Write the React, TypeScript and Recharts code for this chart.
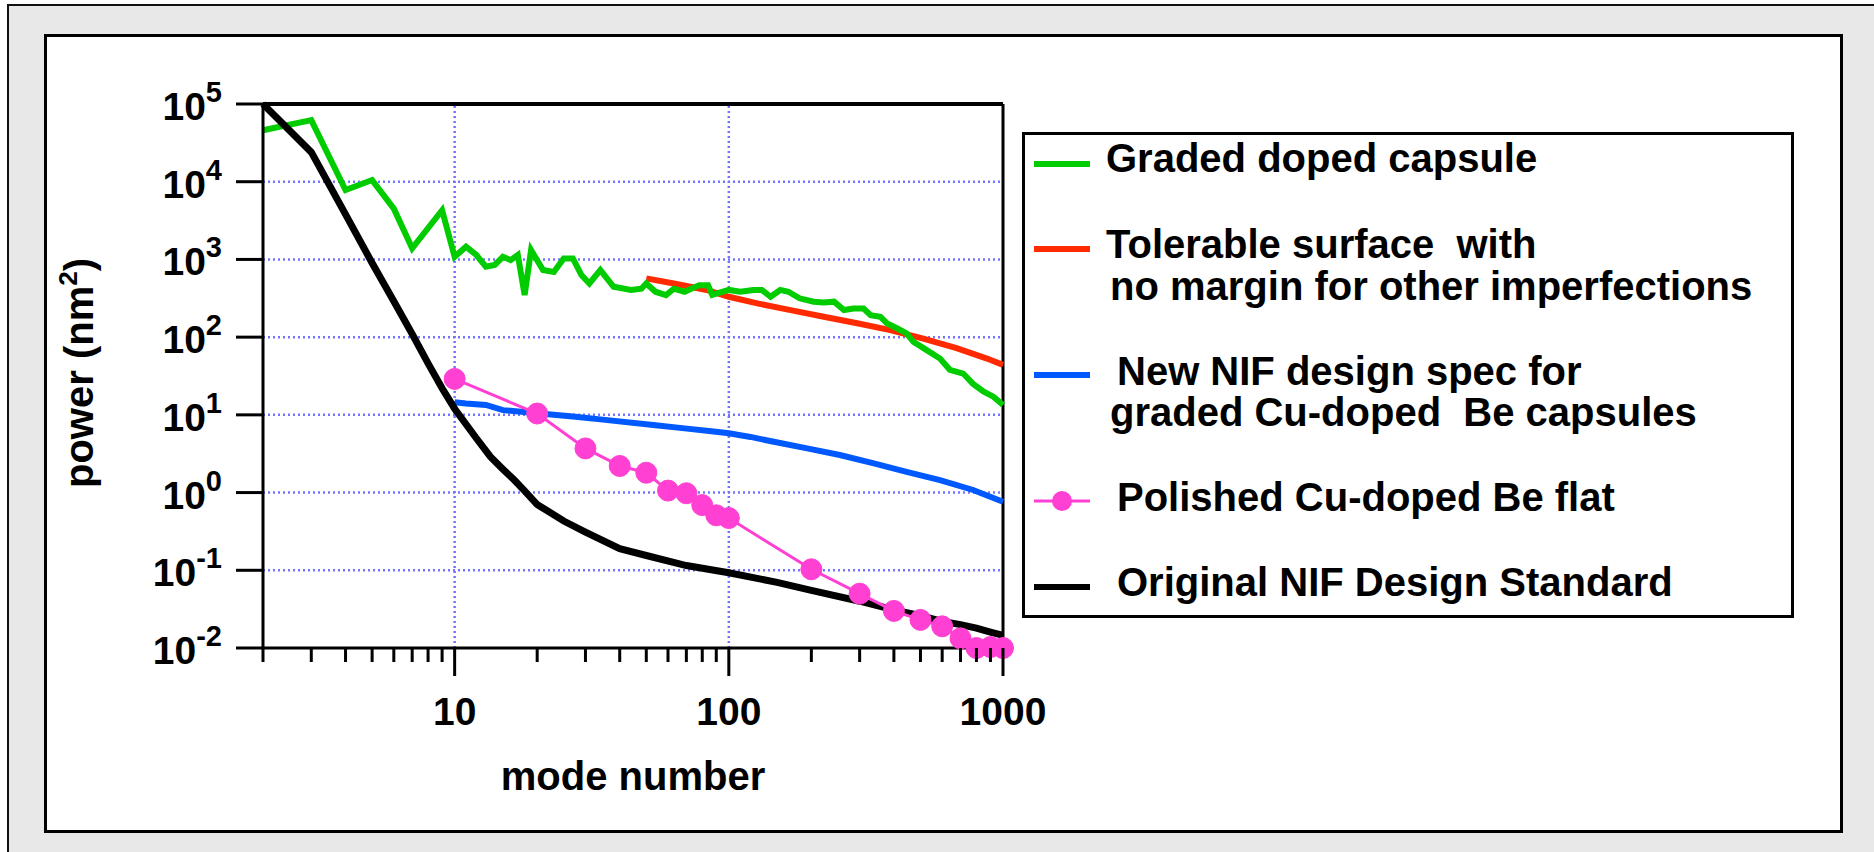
import React from 'react';
import { LineChart, Line, XAxis, YAxis, ReferenceLine, Legend } from 'recharts';

// mode number ticks (log axis), majors get a label
const modeTicks = [2, 3, 4, 5, 6, 7, 8, 9, 10, 20, 30, 40, 50, 60, 70, 80, 90, 100, 200, 300, 400, 500, 600, 700, 800, 900, 1000];
const majorModes = [10, 100, 1000];
const powerTicks = [1e-2, 1e-1, 1, 10, 100, 1000, 1e4, 1e5];
const gridModes = [10, 100];
const gridPowers = [1e-1, 1, 10, 100, 1000, 1e4];

// Graded doped capsule
const gradedMode = [2, 3, 4, 5, 6, 7, 9, 10, 11, 12, 13, 14, 15, 16, 17, 18, 19, 21, 23, 25, 27, 29, 31, 34, 38, 44, 48, 50, 54, 59, 63, 69, 78, 84, 87, 100, 110, 123, 132, 142, 154, 165, 181, 204, 222, 242, 263, 285, 310, 329, 357, 377, 410, 445, 471, 527, 589, 640, 716, 778, 848, 925, 1000];
const gradedPower = [46000, 62000, 7800, 10500, 4500, 1390, 4300, 1080, 1460, 1140, 805, 850, 1080, 980, 1140, 348, 1320, 730, 690, 1030, 1030, 630, 490, 730, 445, 404, 420, 490, 384, 348, 420, 384, 467, 467, 350, 405, 384, 405, 405, 331, 405, 384, 316, 286, 280, 286, 223, 234, 234, 192, 183, 151, 130, 112, 87, 68, 53, 38, 34, 25, 20, 17, 13.4];

// Tolerable surface with no margin
const tolerableMode = [50, 63, 83, 100, 127, 168, 222, 294, 388, 512, 677, 874, 1000];
const tolerablePower = [571, 490, 405, 331, 272, 223, 183, 151, 123, 96, 72, 53, 44];

// New NIF design spec
const specMode = [10, 11, 13, 15, 20, 27, 34, 53, 69, 88, 100, 120, 146, 193, 254, 338, 445, 589, 778, 1000];
const specPower = [14.5, 14, 13.4, 11.5, 10.5, 9.5, 8.75, 7.4, 6.7, 6.1, 5.8, 5.2, 4.5, 3.7, 3.04, 2.38, 1.85, 1.45, 1.08, 0.76];

// Polished Cu-doped Be flat (measured)
const polishedMode = [10, 20, 30, 40, 50, 60, 70, 80, 90, 100, 200, 300, 400, 500, 600, 700, 800, 900, 1000];
const polishedPower = [29, 10.4, 3.7, 2.2, 1.8, 1.06, 0.98, 0.69, 0.51, 0.47, 0.103, 0.05, 0.03, 0.023, 0.019, 0.0133, 0.01, 0.0103, 0.01];

// Original NIF design standard
const originalMode = [2, 3, 4, 5, 6, 7, 8, 9, 10, 12, 13.5, 15, 16.5, 18, 20, 22, 25, 30, 40, 50, 70, 100, 150, 200, 300, 400, 500, 600, 700, 800, 900, 1000];
const originalPower = [100000, 24000, 3800, 900, 290, 110, 46, 22, 12, 5, 2.9, 2, 1.45, 1.05, 0.7, 0.57, 0.43, 0.31, 0.19, 0.155, 0.115, 0.093, 0.07, 0.055, 0.04, 0.031, 0.026, 0.022, 0.02, 0.018, 0.016, 0.0145];

const zip = (xs: number[], ys: number[]) => xs.map((x, i) => ({ x, y: ys[i] }));

const FONT = '"Liberation Sans", Arial, Helvetica, sans-serif';
const GREEN = '#00cc00';
const RED = '#ff2a00';
const BLUE = '#0058ff';
const PINK = '#ff40d2';
const GRID = '#7373ff';

const legendItems = [
  { lines: ['Graded doped capsule'], color: GREEN, width: 6, dot: false, lineY: 32, textX: [84], base: [40] },
  { lines: ['Tolerable surface  with', 'no margin for other imperfections'], color: RED, width: 6, dot: false, lineY: 117, textX: [84, 88], base: [126, 168] },
  { lines: ['New NIF design spec for', 'graded Cu-doped  Be capsules'], color: BLUE, width: 6, dot: false, lineY: 243, textX: [95, 88], base: [253, 294] },
  { lines: ['Polished Cu-doped Be flat'], color: PINK, width: 3, dot: true, lineY: 369, textX: [95], base: [379] },
  { lines: ['Original NIF Design Standard'], color: '#000', width: 6, dot: false, lineY: 455, textX: [95], base: [464] },
];

function renderLegend() {
  return (
    <svg width={772} height={486} style={{ display: 'block' }}>
      <rect x={1.5} y={1.5} width={769} height={483} fill="#fff" stroke="#000" strokeWidth={3} />
      {legendItems.map((it, i) => (
        <g key={i}>
          <line x1={12} x2={68} y1={it.lineY} y2={it.lineY} stroke={it.color} strokeWidth={it.width} />
          {it.dot && <circle cx={40} cy={it.lineY} r={10} fill={it.color} />}
          {it.lines.map((t, j) => (
            <text key={j} x={it.textX[j]} y={it.base[j]} fontFamily={FONT} fontWeight="bold" fontSize={40} fill="#000" style={{ whiteSpace: 'pre' }}>
              {t}
            </text>
          ))}
        </g>
      ))}
    </svg>
  );
}

const PowerTick = (props: any) => {
  const { x, y, payload } = props;
  const exp = Math.round(Math.log10(payload.value));
  return (
    <g>
      <line x1={x - 27} x2={x} y1={y} y2={y} stroke="#000" strokeWidth={3} />
      <text x={x - 41} y={y + 16} textAnchor="end" fontFamily={FONT} fontWeight="bold" fontSize={39} fill="#000">
        <tspan>10</tspan>
        <tspan fontSize={29} dy={-18}>{String(exp)}</tspan>
      </text>
    </g>
  );
};

const ModeTick = (props: any) => {
  const { x, y, payload } = props;
  const major = majorModes.includes(payload.value);
  return (
    <g>
      <line x1={x} x2={x} y1={y} y2={y + (major ? 28 : 14)} stroke="#000" strokeWidth={3} />
      {major && (
        <text x={x} y={y + 77} textAnchor="middle" fontFamily={FONT} fontWeight="bold" fontSize={39} fill="#000">
          {payload.value}
        </text>
      )}
    </g>
  );
};

const YTitle = (props: any) => {
  const { viewBox } = props;
  const x = viewBox.x + 93;
  const y = viewBox.y + 384;
  return (
    <text x={x} y={y} transform={`rotate(-90 ${x} ${y})`} fontFamily={FONT} fontWeight="bold" fontSize={40} fill="#000">
      <tspan>power (nm</tspan>
      <tspan fontSize={26} dy={-16}>2</tspan>
      <tspan dy={16}>)</tspan>
    </text>
  );
};

const XTitle = (props: any) => {
  const { viewBox } = props;
  return (
    <text x={viewBox.x + viewBox.width / 2} y={viewBox.y + 142} textAnchor="middle" fontFamily={FONT} fontWeight="bold" fontSize={40} fill="#000">
      mode number
    </text>
  );
};

export default function App() {
  return (
    <div style={{ position: 'absolute', left: 0, top: 0, width: 1874, height: 852, background: '#fff', overflow: 'hidden' }}>
      <div style={{ position: 'absolute', left: 7, top: 4, right: 0, bottom: 0, background: '#e8e8e8', borderTop: '2px solid #111', borderLeft: '2px solid #111' }} />
      <div style={{ position: 'absolute', left: 44, top: 34, width: 1799, height: 799, boxSizing: 'border-box', background: '#fff', border: '3px solid #000' }} />
      <div style={{ position: 'absolute', left: 0, top: 0 }}>
        <LineChart width={1874} height={852} margin={{ top: 104, right: 871, bottom: 104, left: 0 }}>
          <XAxis
            dataKey="x"
            type="number"
            scale="log"
            domain={[2, 1000]}
            ticks={modeTicks}
            interval={0}
            height={100}
            tickSize={0}
            tickMargin={0}
            tickLine={false}
            tick={<ModeTick />}
            axisLine={{ stroke: '#000', strokeWidth: 3 }}
            label={<XTitle />}
          />
          <YAxis
            dataKey="y"
            type="number"
            scale="log"
            domain={[0.01, 100000]}
            ticks={powerTicks}
            interval={0}
            width={263}
            tickSize={0}
            tickMargin={0}
            tickLine={false}
            tick={<PowerTick />}
            axisLine={{ stroke: '#000', strokeWidth: 3 }}
            label={<YTitle />}
          />
          {gridPowers.map(v => (
            <ReferenceLine key={`gy${v}`} y={v} stroke={GRID} strokeWidth={2.5} strokeDasharray="2 3" />
          ))}
          {gridModes.map(v => (
            <ReferenceLine key={`gx${v}`} x={v} stroke={GRID} strokeWidth={2.5} strokeDasharray="2 3" />
          ))}
          <ReferenceLine y={100000} stroke="#000" strokeWidth={4} />
          <ReferenceLine x={1000} stroke="#000" strokeWidth={3} />
          <Line data={zip(tolerableMode, tolerablePower)} dataKey="y" name="Tolerable surface" stroke={RED} strokeWidth={6} dot={false} isAnimationActive={false} />
          <Line data={zip(gradedMode, gradedPower)} dataKey="y" name="Graded doped capsule" stroke={GREEN} strokeWidth={6} dot={false} isAnimationActive={false} />
          <Line data={zip(specMode, specPower)} dataKey="y" name="New NIF design spec" stroke={BLUE} strokeWidth={6} dot={false} isAnimationActive={false} />
          <Line data={zip(originalMode, originalPower)} dataKey="y" name="Original NIF Design Standard" stroke="#000" strokeWidth={7} dot={false} isAnimationActive={false} />
          <Line data={zip(polishedMode, polishedPower)} dataKey="y" name="Polished Cu-doped Be flat" stroke={PINK} strokeWidth={3} dot={{ r: 10.5, fill: PINK, stroke: PINK, strokeWidth: 1 }} isAnimationActive={false} />
          <Legend
            layout="vertical"
            align="center"
            verticalAlign="middle"
            content={renderLegend}
            wrapperStyle={{ position: 'absolute', left: 1022, top: 132, width: 772, height: 486 }}
          />
        </LineChart>
      </div>
    </div>
  );
}
